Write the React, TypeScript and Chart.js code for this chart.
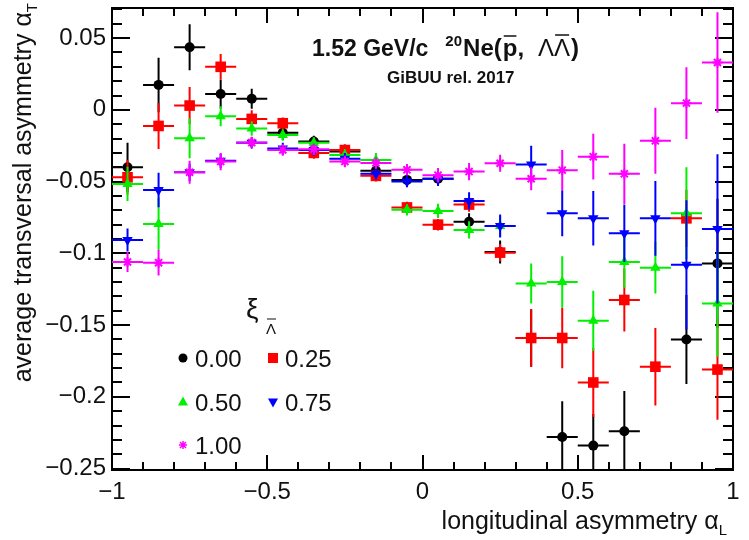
import React, { useEffect, useRef } from "react";
import { Chart, registerables } from "chart.js";

Chart.register(...registerables);

// ---------- data ----------
const xBins = [-0.95, -0.85, -0.75, -0.65, -0.55, -0.45, -0.35, -0.25, -0.15, -0.05, 0.05, 0.15, 0.25, 0.35, 0.45, 0.55, 0.65, 0.75, 0.85, 0.95];
const binHalfWidth = 0.05;

const seriesNames = ["0.00", "0.25", "0.50", "0.75", "1.00"];

const y000 = [-0.040, 0.0174, 0.0437, 0.011, 0.0077, -0.016, -0.022, -0.029, -0.0425, -0.0488, -0.048, -0.078, -0.099, -0.159, -0.228, -0.234, -0.224, null, -0.160, -0.107];
const e000 = [0.017, 0.019, 0.016, 0.010, 0.007, 0.005, 0.004, 0.004, 0.004, 0.004, 0.004, 0.006, 0.008, 0.020, 0.025, 0.022, 0.028, 0, 0.031, 0.045];

const y025 = [-0.047, -0.0112, 0.003, 0.030, -0.0063, -0.0093, -0.030, -0.028, -0.046, -0.068, -0.080, -0.066, -0.0995, -0.159, -0.159, -0.190, -0.1325, -0.179, -0.0756, -0.181];
const e025 = [0.012, 0.016, 0.013, 0.009, 0.006, 0.004, 0.004, 0.004, 0.004, 0.004, 0.004, 0.005, 0.006, 0.020, 0.021, 0.024, 0.022, 0.027, 0.020, 0.035];

const y050 = [-0.0516, -0.0795, -0.0198, -0.0045, -0.013, -0.0175, -0.023, -0.0314, -0.035, -0.0697, -0.0704, -0.0837, -0.081, -0.121, -0.120, -0.147, -0.106, -0.110, -0.072, -0.135];
const e050 = [0.012, 0.018, 0.014, 0.007, 0.005, 0.004, 0.004, 0.004, 0.005, 0.004, 0.005, 0.006, 0.007, 0.014, 0.018, 0.021, 0.018, 0.018, 0.032, 0.037];

const y075 = [-0.0907, -0.0558, -0.0435, -0.0355, -0.023, -0.027, -0.028, -0.034, -0.0446, -0.050, -0.048, -0.0635, -0.081, -0.038, -0.072, -0.0756, -0.086, -0.0756, -0.108, -0.083];
const e075 = [0.008, 0.012, 0.006, 0.005, 0.004, 0.004, 0.004, 0.004, 0.004, 0.004, 0.005, 0.006, 0.008, 0.013, 0.016, 0.019, 0.020, 0.026, 0.045, 0.052];

const y100 = [-0.106, -0.1065, -0.0435, -0.036, -0.0228, -0.0279, -0.0274, -0.036, -0.037, -0.0418, -0.0455, -0.043, -0.0372, -0.048, -0.042, -0.0326, -0.0446, -0.0216, 0.0047, 0.033];
const e100 = [0.007, 0.009, 0.008, 0.006, 0.004, 0.004, 0.004, 0.004, 0.004, 0.004, 0.005, 0.006, 0.006, 0.008, 0.014, 0.016, 0.021, 0.023, 0.025, 0.035];

const seriesValues = [y000, y025, y050, y075, y100];
const seriesErrors = [e000, e025, e050, e075, e100];

const xTickValues = [-1, -0.5, 0, 0.5, 1];
const xTickLabels = ["\u22121", "\u22120.5", "0", "0.5", "1"];
const yTickValues = [-0.25, -0.2, -0.15, -0.1, -0.05, 0, 0.05];
const yTickLabels = ["\u22120.25", "\u22120.2", "\u22120.15", "\u22120.1", "\u22120.05", "0", "0.05"];

// ---------- styles ----------
const FONT = '"Liberation Sans", Arial, Helvetica, sans-serif';
const seriesStyles = [
  { color: "#000000", pointStyle: "circle", radius: 5, rotation: 0 },
  { color: "#ff0000", pointStyle: "rect", radius: 7.5, rotation: 0 },
  { color: "#00f000", pointStyle: "triangle", radius: 6, rotation: 0 },
  { color: "#0000ff", pointStyle: "triangle", radius: 6, rotation: 180 },
  { color: "#ff00ff", pointStyle: "star", radius: 5, rotation: 0 },
];

const errorBarPlugin = {
  id: "errorBars",
  beforeDatasetDraw(chart: any, args: any) {
    const ds = chart.data.datasets[args.index];
    const errs: number[] = ds.errY;
    if (!errs) return;
    const xs = chart.scales.x;
    const ys = chart.scales.y;
    const ctx = chart.ctx;
    const ca = chart.chartArea;
    ctx.save();
    ctx.beginPath();
    ctx.rect(ca.left, ca.top, ca.right - ca.left, ca.bottom - ca.top);
    ctx.clip();
    ctx.strokeStyle = ds.borderColor;
    ctx.lineWidth = 2;
    ds.data.forEach((p: any, i: number) => {
      const e = errs[i];
      const px = xs.getPixelForValue(p.x);
      const py = ys.getPixelForValue(p.y);
      ctx.beginPath();
      ctx.moveTo(xs.getPixelForValue(p.x - binHalfWidth), py);
      ctx.lineTo(xs.getPixelForValue(p.x + binHalfWidth), py);
      ctx.moveTo(px, ys.getPixelForValue(p.y - e));
      ctx.lineTo(px, ys.getPixelForValue(p.y + e));
      ctx.stroke();
    });
    ctx.restore();
  },
};

const framePlugin = {
  id: "rootFrame",
  beforeDatasetsDraw(chart: any) {
    const ctx = chart.ctx;
    const { left, right, top, bottom } = chart.chartArea;
    const xs = chart.scales.x;
    const ys = chart.scales.y;
    ctx.save();
    ctx.strokeStyle = "#000";
    ctx.lineWidth = 2;
    ctx.strokeRect(left, top, right - left, bottom - top);
    ctx.beginPath();
    for (let k = -10; k <= 10; k++) {
      const px = Math.round(xs.getPixelForValue(k / 10));
      const len = k % 5 === 0 ? 15 : 8;
      ctx.moveTo(px, bottom);
      ctx.lineTo(px, bottom - len);
      ctx.moveTo(px, top);
      ctx.lineTo(px, top + len);
    }
    for (let k = -25; k <= 7; k++) {
      const py = Math.round(ys.getPixelForValue(k / 100));
      const len = k % 5 === 0 ? 18 : 10;
      ctx.moveTo(left, py);
      ctx.lineTo(left + len, py);
      ctx.moveTo(right, py);
      ctx.lineTo(right - len, py);
    }
    ctx.stroke();
    ctx.restore();
  },
};

function drawLegendMarker(ctx: CanvasRenderingContext2D, idx: number, x: number, y: number) {
  const c = seriesStyles[idx].color;
  ctx.fillStyle = c;
  ctx.strokeStyle = c;
  ctx.beginPath();
  if (idx === 0) {
    ctx.arc(x, y, 4.5, 0, Math.PI * 2);
    ctx.fill();
  } else if (idx === 1) {
    ctx.fillRect(x - 5, y - 5, 10, 10);
  } else if (idx === 2) {
    ctx.moveTo(x, y - 5.5);
    ctx.lineTo(x + 5, y + 3.5);
    ctx.lineTo(x - 5, y + 3.5);
    ctx.closePath();
    ctx.fill();
  } else if (idx === 3) {
    ctx.moveTo(x, y + 5.5);
    ctx.lineTo(x + 5, y - 3.5);
    ctx.lineTo(x - 5, y - 3.5);
    ctx.closePath();
    ctx.fill();
  } else {
    ctx.lineWidth = 1.5;
    ctx.moveTo(x - 4, y); ctx.lineTo(x + 4, y);
    ctx.moveTo(x, y - 4); ctx.lineTo(x, y + 4);
    ctx.moveTo(x - 3, y - 3); ctx.lineTo(x + 3, y + 3);
    ctx.moveTo(x - 3, y + 3); ctx.lineTo(x + 3, y - 3);
    ctx.stroke();
  }
}

const textPlugin = {
  id: "rootTexts",
  afterDraw(chart: any) {
    const ctx: CanvasRenderingContext2D = chart.ctx;
    ctx.save();
    ctx.fillStyle = "#111";
    ctx.strokeStyle = "#111";
    ctx.textBaseline = "alphabetic";
    ctx.textAlign = "left";

    // ---- title ----
    let x = 312;
    const base = 56;
    ctx.font = `bold 23px ${FONT}`;
    ctx.fillText("1.52 GeV/c", x, base);
    x += ctx.measureText("1.52 GeV/c").width + 17;
    ctx.font = `bold 15px ${FONT}`;
    ctx.fillText("20", x, base - 10);
    x += ctx.measureText("20").width + 1;
    ctx.font = `bold 24px ${FONT}`;
    ctx.fillText("Ne(", x, base);
    x += ctx.measureText("Ne(").width + 1;
    const pw = ctx.measureText("p").width;
    ctx.fillText("p", x, base);
    ctx.lineWidth = 1.5;
    ctx.beginPath();
    ctx.moveTo(x + 1, base - 20);
    ctx.lineTo(x + pw - 1, base - 20);
    ctx.stroke();
    x += pw;
    ctx.fillText(",", x, base);
    x += ctx.measureText(",").width + 14;
    ctx.font = `24px ${FONT}`;
    const lw = ctx.measureText("\u039B").width;
    ctx.fillText("\u039B", x, base);
    x += lw;
    ctx.fillText("\u039B", x, base);
    ctx.beginPath();
    ctx.moveTo(x + 1, base - 21);
    ctx.lineTo(x + lw - 1, base - 21);
    ctx.stroke();
    x += lw + 1;
    ctx.font = `bold 24px ${FONT}`;
    ctx.fillText(")", x, base);

    ctx.font = `bold 17px ${FONT}`;
    ctx.fillText("GiBUU rel. 2017", 387, 83);

    // ---- legend ----
    ctx.font = `28px ${FONT}`;
    ctx.fillText("\u03BE", 246, 318);
    ctx.font = `15px ${FONT}`;
    ctx.fillText("\u039B", 266, 334);
    ctx.lineWidth = 1;
    ctx.beginPath();
    ctx.moveTo(267, 319);
    ctx.lineTo(276, 319);
    ctx.stroke();

    const cols = [183, 273];
    const rows = [358, 402, 445];
    seriesNames.forEach((name, i) => {
      const mx = cols[i % 2];
      const my = rows[Math.floor(i / 2)];
      drawLegendMarker(ctx, i, mx, my);
      ctx.fillStyle = "#111";
      ctx.font = `24px ${FONT}`;
      ctx.fillText(name, mx + 12, my + 9);
    });

    // ---- axis titles ----
    ctx.fillStyle = "#111";
    const xMain = "longitudinal asymmetry \u03B1";
    ctx.font = `15px ${FONT}`;
    const subLw = ctx.measureText("L").width;
    ctx.font = `25px ${FONT}`;
    const xMainW = ctx.measureText(xMain).width;
    const xEnd = 727;
    ctx.fillText(xMain, xEnd - subLw - xMainW, 529);
    ctx.font = `15px ${FONT}`;
    ctx.fillText("L", xEnd - subLw, 535);

    ctx.save();
    ctx.translate(31, 3);
    ctx.rotate(-Math.PI / 2);
    const yMain = "average transversal asymmetry \u03B1";
    ctx.font = `15px ${FONT}`;
    const subTw = ctx.measureText("T").width;
    ctx.font = `25px ${FONT}`;
    const yMainW = ctx.measureText(yMain).width;
    ctx.fillText(yMain, -subTw - yMainW, 0);
    ctx.font = `15px ${FONT}`;
    ctx.fillText("T", -subTw, 6);
    ctx.restore();

    ctx.restore();
  },
};

export default function App() {
  const ref = useRef<HTMLCanvasElement>(null);

  useEffect(() => {
    const canvas = ref.current;
    if (!canvas) return;
    const order = [5, 4, 3, 2, 1];
    const datasets = seriesNames.map((name, s) => {
      const st = seriesStyles[s];
      const pts: { x: number; y: number }[] = [];
      const errs: number[] = [];
      xBins.forEach((xv, i) => {
        const yv = seriesValues[s][i];
        if (yv !== null && yv !== undefined) {
          pts.push({ x: xv, y: yv as number });
          errs.push(seriesErrors[s][i]);
        }
      });
      return {
        label: name,
        data: pts,
        errY: errs,
        order: order[s],
        showLine: false,
        borderColor: st.color,
        backgroundColor: st.color,
        pointStyle: st.pointStyle,
        pointRadius: st.radius,
        pointRotation: st.rotation,
        pointBorderWidth: s === 4 ? 2 : 0,
        pointHoverRadius: st.radius,
      } as any;
    });

    const chart = new Chart(canvas, {
      type: "scatter",
      data: { datasets },
      options: {
        animation: false,
        responsive: false,
        devicePixelRatio: 1,
        layout: { padding: { left: 0, right: 16, top: 8, bottom: 0 } },
        plugins: {
          legend: { display: false },
          tooltip: { enabled: false },
          title: { display: false },
        },
        scales: {
          x: {
            type: "linear",
            min: -1,
            max: 1,
            afterBuildTicks: (s: any) => {
              s.ticks = xTickValues.map((v) => ({ value: v }));
            },
            afterFit: (s: any) => {
              s.height = 70;
              s.paddingLeft = 0;
              s.paddingRight = 0;
              s.paddingTop = 0;
              s.paddingBottom = 0;
            },
            ticks: {
              autoSkip: false,
              maxRotation: 0,
              padding: 8,
              color: "#111",
              font: { family: FONT, size: 24 },
              callback: (_v: any, i: number) => xTickLabels[i],
            },
            grid: { display: false, drawTicks: false },
            border: { display: false },
          },
          y: {
            type: "linear",
            min: -0.251,
            max: 0.071,
            afterBuildTicks: (s: any) => {
              s.ticks = yTickValues.map((v) => ({ value: v }));
            },
            afterFit: (s: any) => {
              s.width = 112;
              s.paddingLeft = 0;
              s.paddingRight = 0;
              s.paddingTop = 0;
              s.paddingBottom = 0;
            },
            ticks: {
              autoSkip: false,
              padding: 6,
              color: "#111",
              font: { family: FONT, size: 24 },
              callback: (_v: any, i: number) => yTickLabels[i],
            },
            grid: { display: false, drawTicks: false },
            border: { display: false },
          },
        },
      } as any,
      plugins: [framePlugin, errorBarPlugin, textPlugin],
    });

    return () => chart.destroy();
  }, []);

  return (
    <div style={{ position: "absolute", left: 0, top: 0, width: 749, height: 540, background: "#fff" }}>
      <canvas ref={ref} width={749} height={540} style={{ display: "block", width: 749, height: 540 }} />
    </div>
  );
}
